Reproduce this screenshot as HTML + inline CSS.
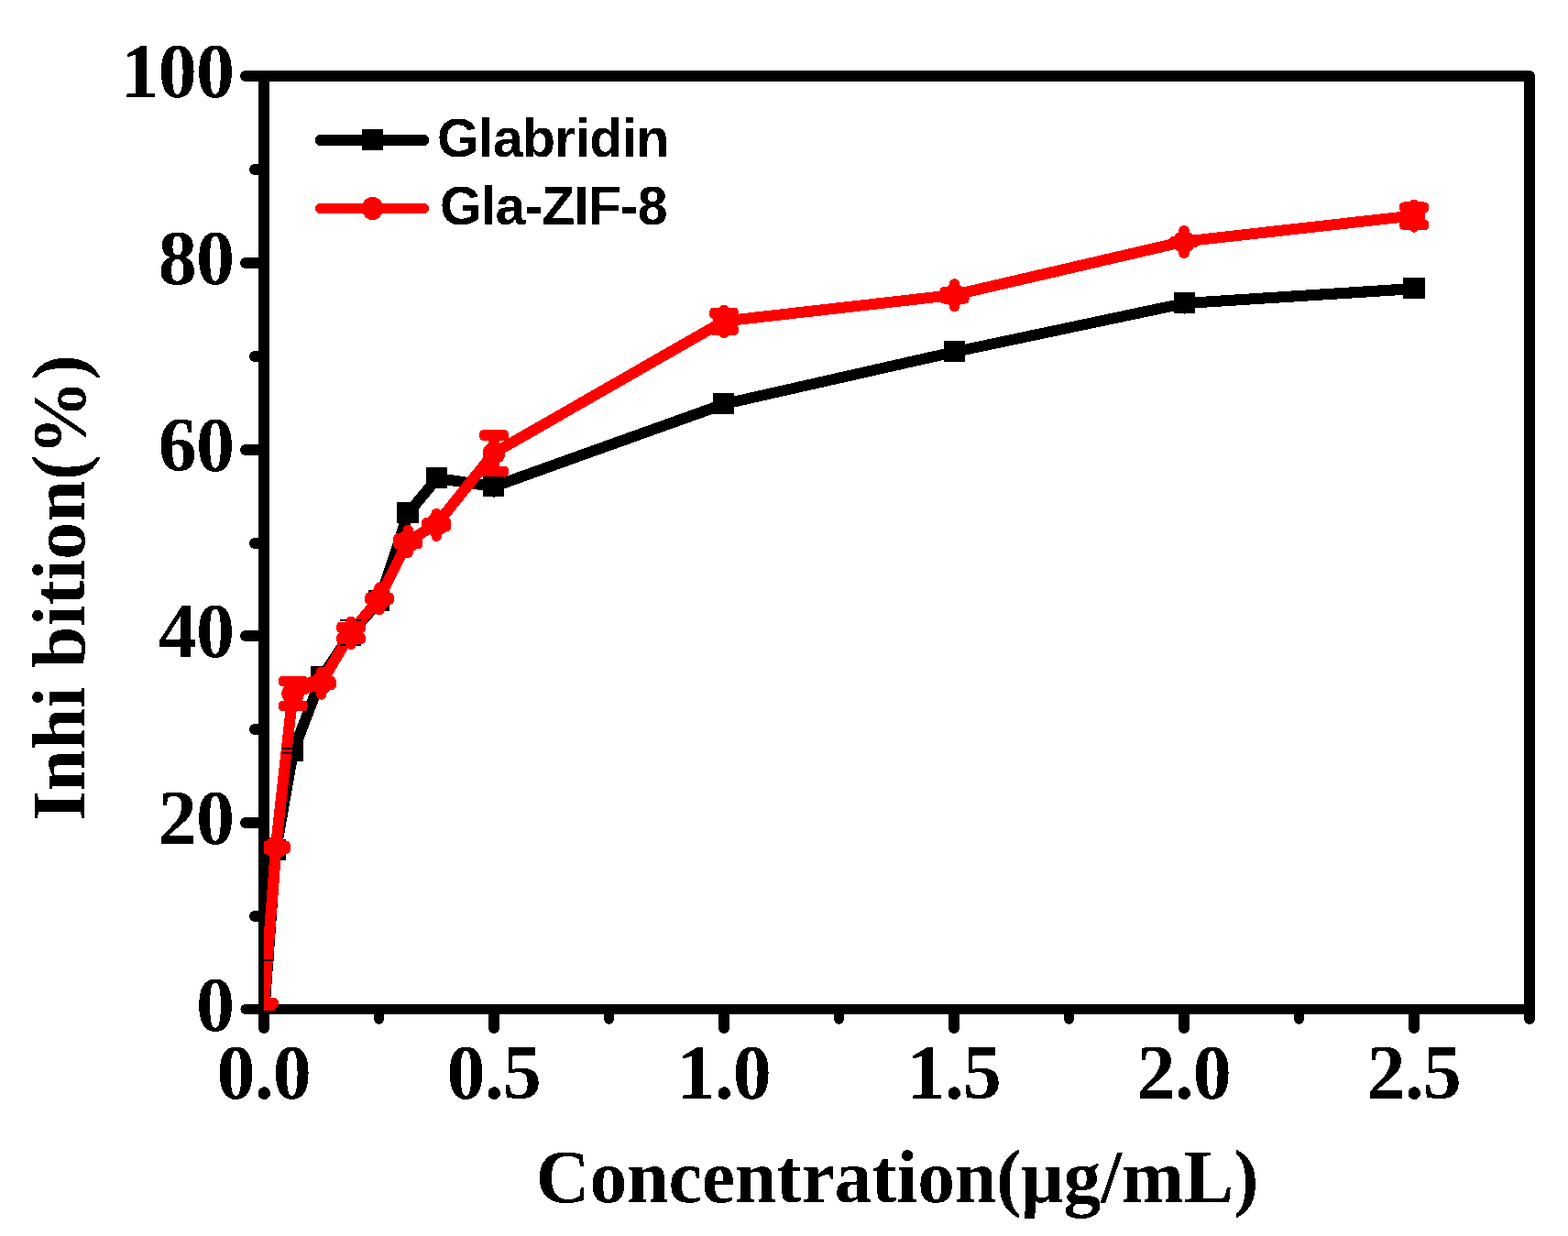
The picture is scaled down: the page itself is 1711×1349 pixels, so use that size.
<!DOCTYPE html>
<html lang="en"><head><meta charset="utf-8"><title>Inhibition vs Concentration</title>
<style>
html,body{margin:0;padding:0;background:#fff;}
body{width:1711px;height:1349px;overflow:hidden;}
svg{display:block;}
.t{font-family:"Liberation Serif",serif;font-weight:bold;fill:#000;}
.l{font-family:"Liberation Sans",sans-serif;font-weight:bold;fill:#000;}
</style></head><body>
<svg width="1711" height="1349" viewBox="0 0 1711 1349">
<rect x="0" y="0" width="1711" height="1349" fill="#fff"/>
<defs><filter id="al" x="0" y="0" width="1711" height="1349" filterUnits="userSpaceOnUse" color-interpolation-filters="sRGB"><feComponentTransfer><feFuncR type="discrete" tableValues="0 1"/><feFuncG type="discrete" tableValues="0 1"/><feFuncB type="discrete" tableValues="0 1"/></feComponentTransfer></filter></defs>
<defs><clipPath id="plot"><rect x="288" y="83" width="1381" height="1020.1"/></clipPath></defs>
<g filter="url(#al)">
<rect x="0" y="0" width="1711" height="1349" fill="#fff"/>
<g stroke="#000" stroke-width="12" stroke-linecap="round" fill="none">
<path d="M268 83H1669V1112" stroke-linejoin="round"/>
<path d="M288 83V1122"/>
<path d="M268 1101.5H1669" stroke-width="11"/>
<path d="M268 898H288"/>
<path d="M268 694H288"/>
<path d="M268 491H288"/>
<path d="M268 287H288"/>
<path d="M278 1000H288"/>
<path d="M278 796H288"/>
<path d="M278 593H288"/>
<path d="M278 389H288"/>
<path d="M278 185H288"/>
<path d="M539 1101.5V1122"/>
<path d="M790 1101.5V1122"/>
<path d="M1041 1101.5V1122"/>
<path d="M1292 1101.5V1122"/>
<path d="M1543 1101.5V1122"/>
<path d="M413.5 1101.5V1112.3" stroke-width="11"/>
<path d="M664.5 1101.5V1112.3" stroke-width="11"/>
<path d="M915.5 1101.5V1112.3" stroke-width="11"/>
<path d="M1166.5 1101.5V1112.3" stroke-width="11"/>
<path d="M1417.5 1101.5V1112.3" stroke-width="11"/>
</g>
<g class="t" font-size="84" text-anchor="end" letter-spacing="-0.9">
<text x="255" y="1125">0</text>
<text x="255" y="920.7">20</text>
<text x="255" y="716.7">40</text>
<text x="255" y="513.7">60</text>
<text x="255" y="309.7">80</text>
<text x="255" y="105.7">100</text>
</g>
<g class="t" font-size="84" text-anchor="middle" letter-spacing="-0.9">
<text x="287.7" y="1199">0.0</text>
<text x="538.7" y="1199">0.5</text>
<text x="789.7" y="1199">1.0</text>
<text x="1040.7" y="1199">1.5</text>
<text x="1291.7" y="1199">2.0</text>
<text x="1542.7" y="1199">2.5</text>
</g>
<text class="t" font-size="81.5" text-anchor="middle" x="979" y="1311.5">Concentration(μg/mL)</text>
<text class="t" font-size="82" text-anchor="middle" transform="translate(91.5 641.5) rotate(-90)">Inhi bition(%)</text>
<g clip-path="url(#plot)">
<polyline points="288.5,1102.1 301,928 320,820 351,739 383,691 414,656 445.5,560 477,522 539,531 790,441 1042,384 1293,331 1543.5,315" fill="none" stroke="#000" stroke-width="12" stroke-linejoin="round"/>
<rect x="289" y="916" width="23" height="23" fill="#000"/>
<rect x="308" y="808" width="23" height="23" fill="#000"/>
<rect x="339" y="727" width="23" height="23" fill="#000"/>
<rect x="371" y="679" width="23" height="23" fill="#000"/>
<rect x="402" y="644" width="23" height="23" fill="#000"/>
<rect x="433.5" y="548" width="23" height="23" fill="#000"/>
<rect x="465" y="510" width="23" height="23" fill="#000"/>
<rect x="527" y="519" width="23" height="23" fill="#000"/>
<rect x="778" y="429" width="23" height="23" fill="#000"/>
<rect x="1030" y="372" width="23" height="23" fill="#000"/>
<rect x="1281" y="319" width="23" height="23" fill="#000"/>
<rect x="1531.5" y="303" width="23" height="23" fill="#000"/>
<polyline points="287.8,1101.1 301,924.5 319.6,756.6 350.7,745.2 383,690.5 414,653 445.3,590.4 476.2,572.4 539,494.4 790,350.5 1041.5,321.8 1292,263.6 1543.1,235.3" fill="none" stroke="#f00" stroke-width="12" stroke-linejoin="round"/>
<circle cx="287.8" cy="1101.5" r="12.3" fill="#f00"/>
<circle cx="301" cy="924.9" r="12.3" fill="#f00"/>
<circle cx="319.6" cy="757" r="12.3" fill="#f00"/>
<circle cx="350.7" cy="745.6" r="12.3" fill="#f00"/>
<circle cx="383" cy="690.9" r="12.3" fill="#f00"/>
<circle cx="414" cy="653.4" r="12.3" fill="#f00"/>
<circle cx="445.3" cy="590.8" r="12.3" fill="#f00"/>
<circle cx="476.2" cy="572.8" r="12.3" fill="#f00"/>
<circle cx="539" cy="494.8" r="12.3" fill="#f00"/>
<circle cx="790" cy="350.9" r="12.3" fill="#f00"/>
<circle cx="1041.5" cy="322.2" r="12.3" fill="#f00"/>
<circle cx="1292" cy="264" r="12.3" fill="#f00"/>
<circle cx="1543.1" cy="235.7" r="12.3" fill="#f00"/>
<g fill="#000">
<rect x="308" y="816" width="23" height="2"/>
<rect x="308" y="821" width="23" height="2"/>
<rect x="371" y="676" width="23" height="2"/>
<rect x="371" y="703" width="23" height="2"/>
<rect x="276.5" y="1047" width="22.5" height="2"/>
<rect x="538.3" y="541" width="1.3" height="2.1"/>
<rect x="1291.7" y="341" width="1.3" height="2.1"/>
</g>
<rect x="271.8" y="1089.1" width="32" height="11.6" rx="4.5" fill="#f00"/>
<rect x="271.8" y="1102.3" width="32" height="11.6" rx="4.5" fill="#f00"/>
<rect x="285" y="918.1" width="32" height="11.6" rx="4.5" fill="#f00"/>
<rect x="285" y="920.1" width="32" height="11.6" rx="4.5" fill="#f00"/>
<line x1="319.6" y1="743.5" x2="319.6" y2="770.5" stroke="#f00" stroke-width="11.5" stroke-linecap="round"/>
<rect x="303.6" y="737.7" width="32" height="11.6" rx="4.5" fill="#f00"/>
<rect x="303.6" y="764.7" width="32" height="11.6" rx="4.5" fill="#f00"/>
<line x1="350.7" y1="733.3" x2="350.7" y2="757.9" stroke="#f00" stroke-width="11.5" stroke-linecap="round"/>
<rect x="334.7" y="738.3" width="32" height="11.6" rx="4.5" fill="#f00"/>
<rect x="334.7" y="741.3" width="32" height="11.6" rx="4.5" fill="#f00"/>
<line x1="383" y1="678.6" x2="383" y2="703.2" stroke="#f00" stroke-width="11.5" stroke-linecap="round"/>
<rect x="367" y="679.1" width="32" height="11.6" rx="4.5" fill="#f00"/>
<rect x="367" y="691.1" width="32" height="11.6" rx="4.5" fill="#f00"/>
<line x1="414" y1="641.1" x2="414" y2="665.7" stroke="#f00" stroke-width="11.5" stroke-linecap="round"/>
<rect x="398" y="647.1" width="32" height="11.6" rx="4.5" fill="#f00"/>
<rect x="398" y="648.1" width="32" height="11.6" rx="4.5" fill="#f00"/>
<line x1="445.3" y1="578.5" x2="445.3" y2="603.1" stroke="#f00" stroke-width="11.5" stroke-linecap="round"/>
<rect x="429.3" y="582.3" width="32" height="11.6" rx="4.5" fill="#f00"/>
<rect x="429.3" y="587.7" width="32" height="11.6" rx="4.5" fill="#f00"/>
<line x1="476.2" y1="560.5" x2="476.2" y2="585.1" stroke="#f00" stroke-width="11.5" stroke-linecap="round"/>
<rect x="460.2" y="565.2" width="32" height="11.6" rx="4.5" fill="#f00"/>
<rect x="460.2" y="568.8" width="32" height="11.6" rx="4.5" fill="#f00"/>
<line x1="539" y1="475.1" x2="539" y2="514.5" stroke="#f00" stroke-width="11.5" stroke-linecap="round"/>
<rect x="523" y="469.3" width="32" height="11.6" rx="4.5" fill="#f00"/>
<rect x="523" y="508.7" width="32" height="11.6" rx="4.5" fill="#f00"/>
<line x1="790" y1="338.6" x2="790" y2="363.2" stroke="#f00" stroke-width="11.5" stroke-linecap="round"/>
<rect x="774" y="336.1" width="32" height="11.6" rx="4.5" fill="#f00"/>
<rect x="774" y="354.1" width="32" height="11.6" rx="4.5" fill="#f00"/>
<line x1="1041.5" y1="309.9" x2="1041.5" y2="334.5" stroke="#f00" stroke-width="11.5" stroke-linecap="round"/>
<rect x="1025.5" y="312.9" width="32" height="11.6" rx="4.5" fill="#f00"/>
<rect x="1025.5" y="319.9" width="32" height="11.6" rx="4.5" fill="#f00"/>
<line x1="1292" y1="251.7" x2="1292" y2="276.3" stroke="#f00" stroke-width="11.5" stroke-linecap="round"/>
<rect x="1276" y="258.2" width="32" height="11.6" rx="4.5" fill="#f00"/>
<rect x="1276" y="258.2" width="32" height="11.6" rx="4.5" fill="#f00"/>
<line x1="1543.1" y1="223.4" x2="1543.1" y2="248" stroke="#f00" stroke-width="11.5" stroke-linecap="round"/>
<rect x="1527.1" y="220.4" width="32" height="11.6" rx="4.5" fill="#f00"/>
<rect x="1527.1" y="239.4" width="32" height="11.6" rx="4.5" fill="#f00"/>
</g>
<rect x="344" y="147" width="124" height="12" rx="5.5" fill="#000"/>
<rect x="395" y="141" width="23" height="23" fill="#000"/>
<rect x="344" y="222" width="124" height="11" rx="5.5" fill="#f00"/>
<ellipse cx="406.5" cy="227.5" rx="11.7" ry="12.6" fill="#f00"/>
<text class="l" letter-spacing="-0.7" font-size="59" x="477" y="170.7">Glabridin</text>
<text class="l" letter-spacing="-0.9" font-size="59" x="480" y="244.8">Gla-ZIF-8</text>
</g>
</svg>
</body></html>
